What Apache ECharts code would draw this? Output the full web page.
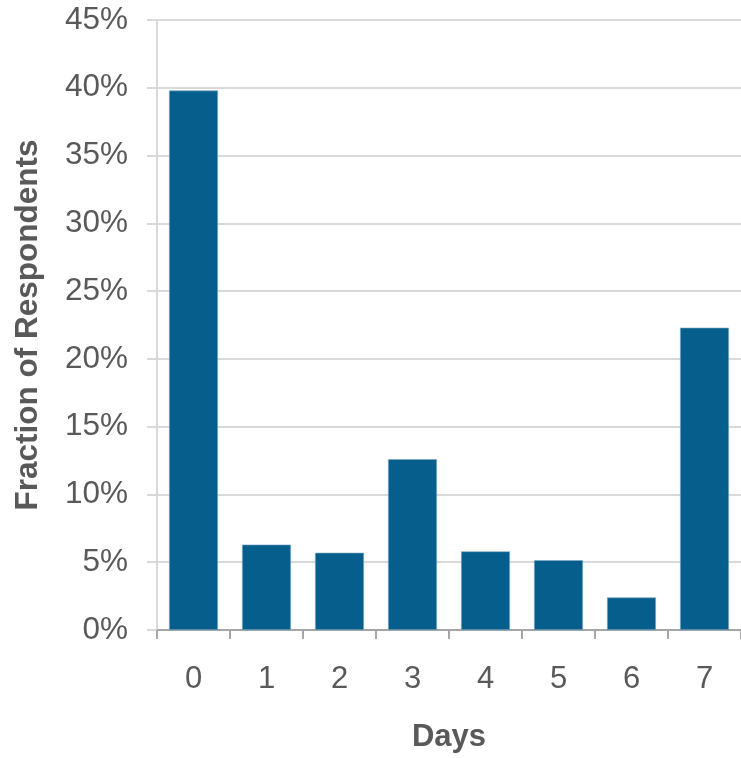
<!DOCTYPE html>
<html>
<head>
<meta charset="utf-8">
<script src="https://cdn.jsdelivr.net/npm/echarts@6/dist/echarts.min.js"></script>
<style>
  html, body { margin: 0; padding: 0; background: #fff; }
  #chart { width: 741px; height: 758px; }
</style>
</head>
<body>
<div id="chart"></div>
<script>
// Days per week, share of respondents (percent)
const days = ['0', '1', '2', '3', '4', '5', '6', '7'];
const fractionPct = [39.8, 6.3, 5.7, 12.6, 5.8, 5.15, 2.4, 22.3];
const yTicks = { min: 0, max: 45, interval: 5 };

const font = '"Liberation Sans", Arial, sans-serif';
const chart = echarts.init(document.getElementById('chart'), null, { renderer: 'canvas' });

chart.setOption({
  animation: false,
  grid: { left: 157, top: 20, width: 588, height: 613, containLabel: false },
  xAxis: {
    type: 'category',
    data: days,
    name: 'Days',
    nameLocation: 'middle',
    nameGap: 92,
    nameTextStyle: { fontFamily: font, fontSize: 31, fontWeight: 'bold', color: '#595959' },
    axisLine: { lineStyle: { color: '#a6a6a6', width: 2 } },
    axisTick: { show: true, length: 9, lineStyle: { color: '#a6a6a6', width: 2 } },
    axisLabel: { fontFamily: font, fontSize: 31, color: '#595959', margin: 34 }
  },
  yAxis: {
    type: 'value',
    min: yTicks.min,
    max: yTicks.max,
    interval: yTicks.interval,
    name: 'Fraction of Respondents',
    nameLocation: 'middle',
    nameGap: 113,
    nameTextStyle: { fontFamily: font, fontSize: 31.5, fontWeight: 'bold', color: '#595959' },
    axisLine: { show: true, lineStyle: { color: '#d9d9d9', width: 2 } },
    axisTick: { show: true, length: 10, lineStyle: { color: '#d9d9d9', width: 2 } },
    splitLine: { lineStyle: { color: '#d9d9d9', width: 2 } },
    axisLabel: { fontFamily: font, fontSize: 31.5, color: '#595959', margin: 29, formatter: '{value}%' }
  },
  series: [{
    type: 'bar',
    data: fractionPct,
    barCategoryGap: '33%',
    itemStyle: { color: '#065e8c', borderColor: '#7fa9c4', borderWidth: 0.6 }
  }]
});
</script>
</body>
</html>
